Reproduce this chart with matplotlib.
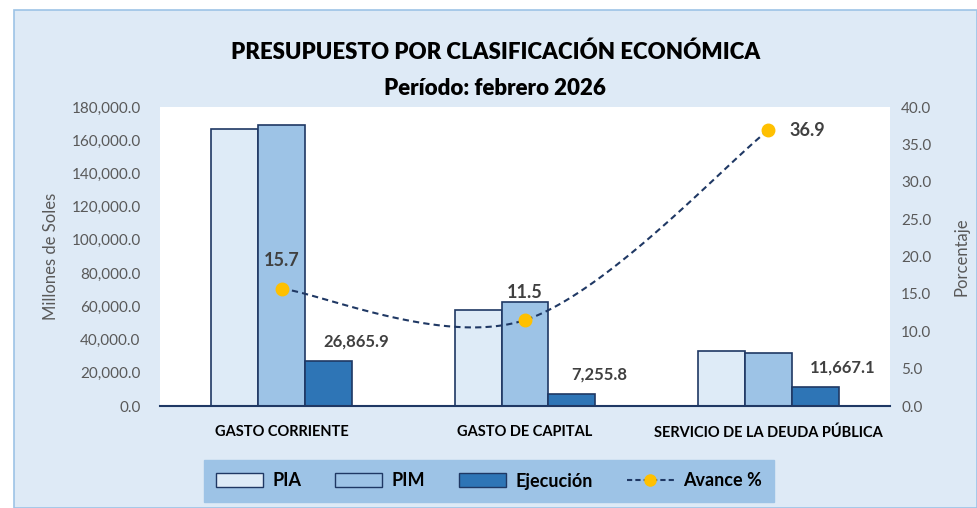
import numpy as np
import matplotlib as mpl
mpl.use('Agg')
import matplotlib.pyplot as plt
from matplotlib.patches import Patch, Rectangle
from matplotlib.lines import Line2D

# datos
categorias = ["GASTO CORRIENTE", "GASTO DE CAPITAL", "SERVICIO DE LA DEUDA PÚBLICA"]
pia = [166800, 57800, 33100]
pim = [169400, 62400, 32100]
ejecucion = [26865.9, 7255.8, 11667.1]
avance = [15.7, 11.5, 36.9]

plt.rcParams['font.family'] = ['Lato', 'DejaVu Sans']

c_pia = '#DEEBF7'
c_pim = '#9DC3E6'
c_eje = '#2E75B6'
c_borde = '#1F3864'
c_fondo = '#DEEAF6'
c_gris = '#595959'

fig = plt.figure(figsize=(9.77, 5.08), dpi=100)
fig.patch.set_facecolor('white')
fig.patches.append(Rectangle((14/977, 0), 1 - 14/977, 498/508, transform=fig.transFigure,
                             facecolor=c_fondo, edgecolor='#9DC3E6', linewidth=1.2, zorder=-10))

ax = fig.add_axes([160/977, 102/508, 730/977, 299/508])
ax.set_facecolor('white')

x = np.arange(len(categorias))
w = 0.193
ax.bar(x - w, pia, w, color=c_pia, edgecolor=c_borde, linewidth=1.2, label='PIA')
ax.bar(x, pim, w, color=c_pim, edgecolor=c_borde, linewidth=1.2, label='PIM')
ax.bar(x + w, ejecucion, w, color=c_eje, edgecolor=c_borde, linewidth=1.2, label='Ejecución')

for xi, v in zip(x, ejecucion):
    ax.annotate('{:,.1f}'.format(v), (xi + w, v), xytext=(20, 14), textcoords='offset points',
                ha='center', va='center', fontsize=12, fontweight='bold', color='#404040')

ax.set_xlim(-0.5, 2.5)
ax.set_ylim(0, 180000)
ax.set_yticks(np.arange(0, 180001, 20000))
ax.set_yticklabels(['{:,.1f}'.format(t) for t in np.arange(0, 180001, 20000)])
ax.set_xticks(x)
ax.set_xticklabels(categorias, fontsize=10.5, fontweight='bold', color='black')
ax.tick_params(axis='both', length=0)
ax.tick_params(axis='y', labelsize=11, labelcolor=c_gris, pad=14)
ax.tick_params(axis='x', pad=14)
for s in ['top', 'left', 'right']:
    ax.spines[s].set_visible(False)
ax.spines['bottom'].set_color(c_borde)
ax.spines['bottom'].set_linewidth(1.5)
ax.set_ylabel('Millones de Soles', fontsize=12, color=c_gris, labelpad=9)

# eje secundario: avance %
ax2 = ax.twinx()
ax2.set_ylim(0, 40)
ax2.set_yticks(np.arange(0, 41, 5))
ax2.set_yticklabels(['{:.1f}'.format(t) for t in np.arange(0, 41, 5)])
ax2.tick_params(axis='y', length=0, labelsize=11, labelcolor=c_gris, pad=8)
for s in ax2.spines.values():
    s.set_visible(False)
ax2.set_ylabel('Porcentaje', fontsize=12, color=c_gris, labelpad=16)

# linea suavizada (bezier tipo Excel) entre los puntos
P = np.column_stack([x, avance]).astype(float)
curva = []
t = np.linspace(0, 1, 60)[:, None]
for i in range(len(P) - 1):
    p_prev = P[max(i - 1, 0)]
    p_next2 = P[min(i + 2, len(P) - 1)]
    b0, b3 = P[i], P[i + 1]
    b1 = b0 + (b3 - p_prev) / 6
    b2 = b3 - (p_next2 - b0) / 6
    seg = (1 - t)**3 * b0 + 3 * (1 - t)**2 * t * b1 + 3 * (1 - t) * t**2 * b2 + t**3 * b3
    curva.append(seg)
curva = np.vstack(curva)
ax2.plot(curva[:, 0], curva[:, 1], color=c_borde, linestyle=(0, (3, 2)), linewidth=1.5)
ax2.plot(x, avance, linestyle='none', marker='o', markersize=9, color='#FFC000')

offs = [(0, 20), (0, 20), (28, 0)]
for xi, v, o in zip(x, avance, offs):
    ax2.annotate('{:.1f}'.format(v), (xi, v), xytext=o, textcoords='offset points',
                 ha='center', va='center', fontsize=13, fontweight='bold', color='#404040')

fig.text(0.507, 0.897, 'PRESUPUESTO POR CLASIFICACIÓN ECONÓMICA', ha='center', va='center',
         fontsize=16, fontweight='heavy')
fig.text(0.507, 0.825, 'Período: febrero 2026', ha='center', va='center',
         fontsize=16, fontweight='heavy')

handles = [Patch(facecolor=c_pia, edgecolor=c_borde, label='PIA'),
           Patch(facecolor=c_pim, edgecolor=c_borde, label='PIM'),
           Patch(facecolor=c_eje, edgecolor=c_borde, label='Ejecución'),
           Line2D([0], [0], color=c_borde, linestyle=(0, (2.5, 1.5)), marker='o', markersize=8,
                  markerfacecolor='#FFC000', markeredgecolor='#FFC000', label='Avance %')]
leg = fig.legend(handles=handles, ncol=4, loc='center', bbox_to_anchor=(489/977, 27/508),
                 frameon=True, fancybox=False, handlelength=2.6, handleheight=0.8,
                 handletextpad=0.5, columnspacing=1.9, borderpad=0.7,
                 prop={'weight': 'bold', 'size': 13})
leg.get_frame().set_facecolor('#9DC3E6')
leg.get_frame().set_edgecolor('#9DC3E6')
leg.get_frame().set_alpha(1)

fig.savefig('out.png', dpi=100)
